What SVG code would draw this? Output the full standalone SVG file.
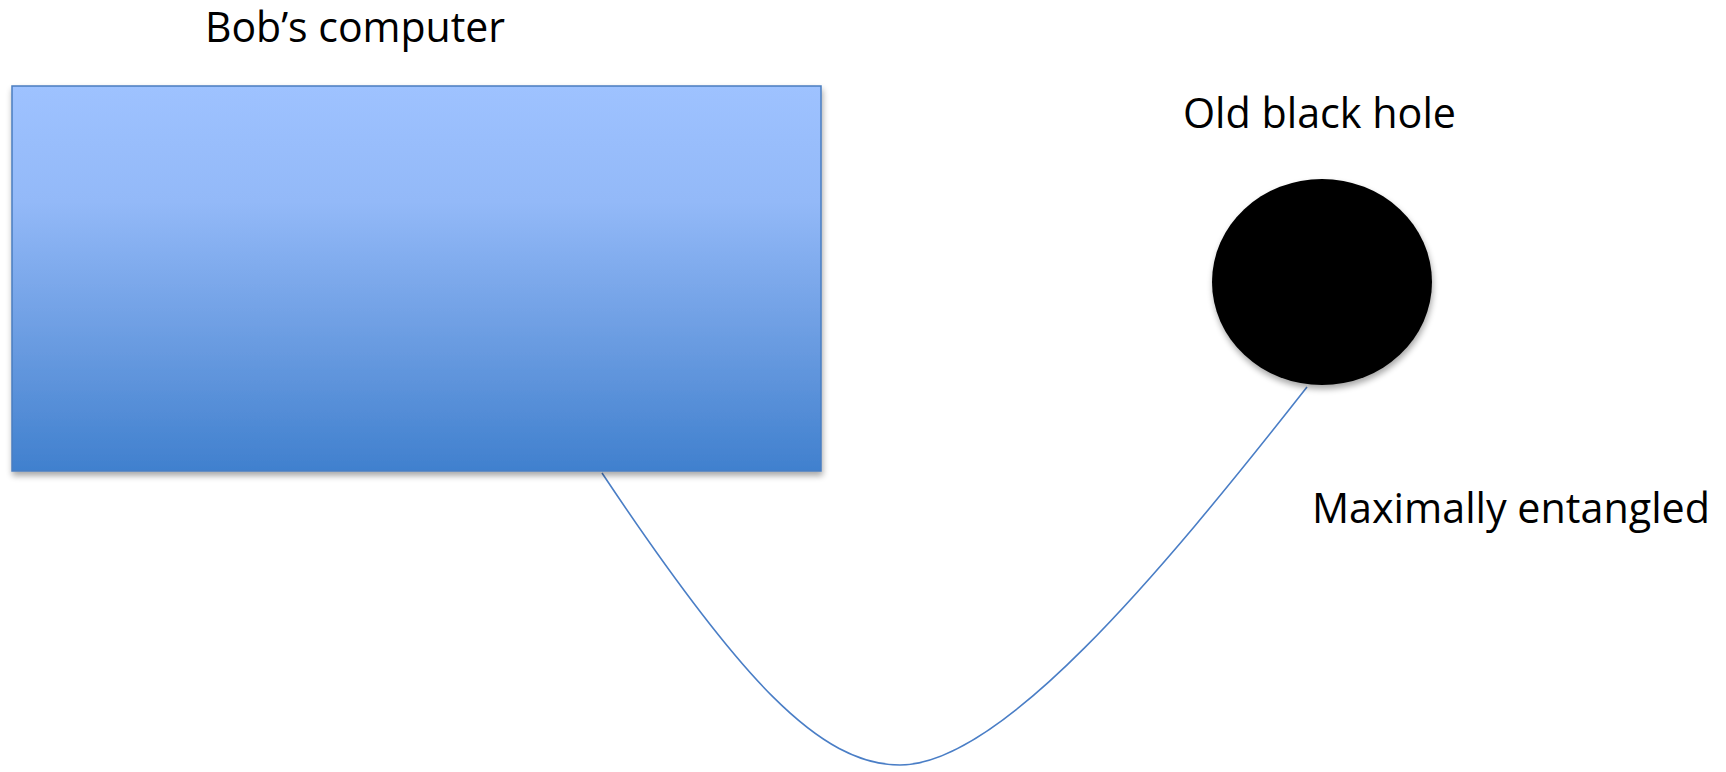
<svg xmlns="http://www.w3.org/2000/svg" width="1726" height="772" viewBox="0 0 1726 772">
<defs>
<linearGradient id="blueGrad" x1="0" y1="0" x2="0" y2="1">
<stop offset="0" stop-color="#9EC2FF"/>
<stop offset="0.3" stop-color="#93B9F8"/>
<stop offset="0.7" stop-color="#6699DF"/>
<stop offset="1" stop-color="#4080CE"/>
</linearGradient>
<filter id="shadow" x="-5%" y="-5%" width="115%" height="115%">
<feGaussianBlur in="SourceAlpha" stdDeviation="3"/>
<feOffset dx="1" dy="4" result="b"/>
<feComponentTransfer><feFuncA type="linear" slope="0.35"/></feComponentTransfer>
<feMerge><feMergeNode/><feMergeNode in="SourceGraphic"/></feMerge>
</filter>
</defs>
<style>
.label { font-family: "Open Sans", "Liberation Sans", sans-serif; font-size: 42px; fill: #000; }
.conn { fill: none; stroke: #4A7EC6; stroke-width: 1.6; }
</style>
<rect width="1726" height="772" fill="#FFFFFF"/>
<g id="connectors">
<path class="conn" d="M602,473 C740,680 820,765 900,765 C1000,765 1157,578 1307,387"/>
</g>
<g id="bobs-computer">
<rect x="12" y="86" width="809" height="385" fill="url(#blueGrad)" stroke="#4A7EC0" stroke-width="1.5" filter="url(#shadow)"/>
<text class="label" x="205" y="42" textLength="300" lengthAdjust="spacingAndGlyphs">Bob’s computer</text>
</g>
<g id="old-black-hole">
<ellipse cx="1322" cy="282" rx="110" ry="103" fill="#000000" filter="url(#shadow)"/>
<text class="label" x="1183" y="128" textLength="273" lengthAdjust="spacingAndGlyphs">Old black hole</text>
</g>
<g id="maximally-entangled">
<text class="label" x="1312" y="523" textLength="398" lengthAdjust="spacingAndGlyphs">Maximally entangled</text>
</g>
</svg>
